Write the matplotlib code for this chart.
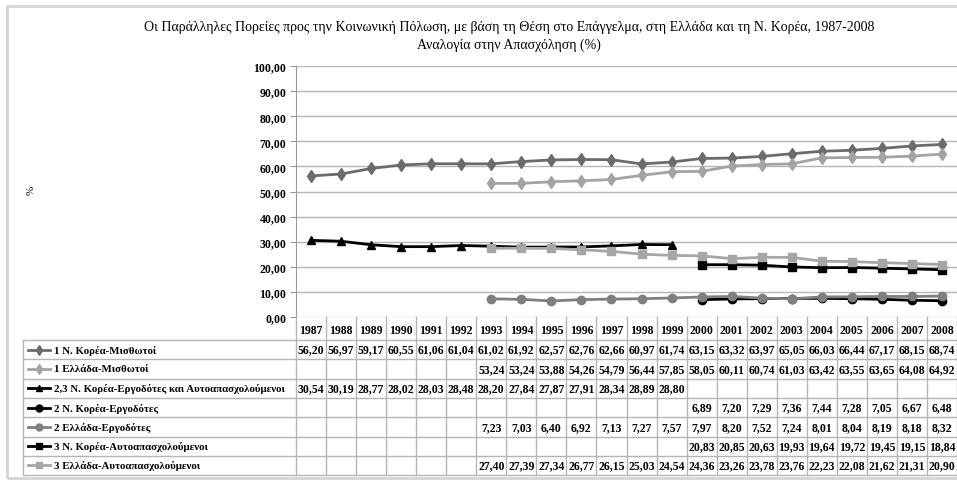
import numpy as np
import matplotlib
matplotlib.use("Agg")
import matplotlib.pyplot as plt
from matplotlib.lines import Line2D
from matplotlib.patches import Rectangle

nan = np.nan
years = list(range(1987, 2009))
labels = [
    "1 Ν. Κορέα-Μισθωτοί",
    "1 Ελλάδα-Μισθωτοί",
    "2,3 Ν. Κορέα-Εργοδότες και Αυτοαπασχολούμενοι",
    "2 Ν. Κορέα-Εργοδότες",
    "2 Ελλάδα-Εργοδότες",
    "3 Ν. Κορέα-Αυτοαπασχολούμενοι",
    "3 Ελλάδα-Αυτοαπασχολούμενοι",
]
korea_wage = [56.20, 56.97, 59.17, 60.55, 61.06, 61.04, 61.02, 61.92, 62.57, 62.76, 62.66,
              60.97, 61.74, 63.15, 63.32, 63.97, 65.05, 66.03, 66.44, 67.17, 68.15, 68.74]
greece_wage = [nan] * 6 + [53.24, 53.24, 53.88, 54.26, 54.79, 56.44, 57.85, 58.05, 60.11,
                           60.74, 61.03, 63.42, 63.55, 63.65, 64.08, 64.92]
korea_emp_self = [30.54, 30.19, 28.77, 28.02, 28.03, 28.48, 28.20, 27.84, 27.87, 27.91,
                  28.34, 28.89, 28.80] + [nan] * 9
korea_emp = [nan] * 13 + [6.89, 7.20, 7.29, 7.36, 7.44, 7.28, 7.05, 6.67, 6.48]
greece_emp = [nan] * 6 + [7.23, 7.03, 6.40, 6.92, 7.13, 7.27, 7.57, 7.97, 8.20, 7.52,
                          7.24, 8.01, 8.04, 8.19, 8.18, 8.32]
korea_self = [nan] * 13 + [20.83, 20.85, 20.63, 19.93, 19.64, 19.72, 19.45, 19.15, 18.84]
greece_self = [nan] * 6 + [27.40, 27.39, 27.34, 26.77, 26.15, 25.03, 24.54, 24.36, 23.26,
                           23.78, 23.76, 22.23, 22.08, 21.62, 21.31, 20.90]
series = [korea_wage, greece_wage, korea_emp_self, korea_emp, greece_emp, korea_self, greece_self]
colors = ["#6b6b6b", "#a3a3a3", "#000000", "#000000", "#7f7f7f", "#000000", "#a6a6a6"]
markers = ["d", "d", "^", "o", "o", "s", "s"]
yticks = np.arange(0, 101, 10)

W, H = 957, 481
fig = plt.figure(figsize=(W / 100, H / 100), dpi=100)
plt.rcParams['font.family'] = ['Liberation Serif', 'DejaVu Serif']

def fx(px):
    return px / W

def fy(py):
    return 1 - py / H

# outer frame
fig.patches.append(Rectangle((fx(7), fy(479)), fx(960) - fx(7), fy(7) - fy(479),
                             transform=fig.transFigure, fill=False,
                             edgecolor="#d4d4d4", linewidth=2, zorder=0))

# title
fig.text(fx(509), fy(28), "Οι Παράλληλες Πορείες προς την Κοινωνική Πόλωση, με βάση τη Θέση στο Επάγγελμα, στη Ελλάδα και τη Ν. Κορέα, 1987-2008",
         ha="center", va="center", fontsize=10)
fig.text(fx(509), fy(45), "Αναλογία στην Απασχόληση (%)", ha="center", va="center", fontsize=10)

# plot area
x0, x1 = 296, 957
ytop, ybot = 67, 318
ax = fig.add_axes([fx(x0), fy(ybot), fx(x1) - fx(x0), fy(ytop) - fy(ybot)])
n = len(years)
xs = np.arange(n)
ax.set_xlim(-0.5, n - 0.5)
ax.set_ylim(0, 100)
ax.set_yticks(yticks)
ax.set_yticklabels([f"{v:.2f}".replace(".", ",") for v in yticks], fontsize=8.5, fontweight="bold")
ax.set_xticks([])
for s in ["top", "right", "bottom"]:
    ax.spines[s].set_visible(False)
ax.spines["left"].set_color("#9a9a9a")
ax.tick_params(axis="y", length=4, color="#9a9a9a", pad=3)
ax.grid(axis="y", color="#b5b5b5", linewidth=1)
ax.set_axisbelow(True)
for vals, c, m in zip(series, colors, markers):
    ax.plot(xs, vals, color=c, marker=m, markersize=6, linewidth=2, clip_on=False)
fig.text(fx(31), fy(190), "%", rotation=90, ha="center", va="center", fontsize=8)

# table
tx0 = 23
colw = (x1 - x0) / n
hdr_top, hdr_bot = 318, 341
rowh = 19.3
nrows = len(series)
tbot = hdr_bot + rowh * nrows
tax = fig.add_axes([fx(tx0), fy(tbot), fx(x1) - fx(tx0), fy(hdr_top) - fy(tbot)])
left_edge = (tx0 - x0) / colw - 0.5
tax.set_xlim(left_edge, n - 0.5)
tax.set_ylim(tbot, hdr_top)
tax.axis("off")
gc = "#b5b5b5"
for i in range(n + 1):
    tax.plot([i - 0.5, i - 0.5], [hdr_top, tbot], color=gc, lw=1, clip_on=False)
tax.plot([left_edge, left_edge], [hdr_bot, tbot], color=gc, lw=1, clip_on=False)
for r in range(nrows + 1):
    yy = hdr_bot + r * rowh
    tax.plot([left_edge, n - 0.5], [yy, yy], color=gc, lw=1, clip_on=False)
for i, yr in enumerate(years):
    tax.text(i, (hdr_top + hdr_bot) / 2 + 1, str(yr), ha="center", va="center",
             fontsize=8.5, fontweight="bold")
lx = left_edge + 5 / colw
for r, (lab, vals, c, m) in enumerate(zip(labels, series, colors, markers)):
    yc = hdr_bot + (r + 0.5) * rowh
    tax.add_line(Line2D([lx, lx + 22 / colw], [yc, yc], color=c, lw=2))
    tax.plot([lx + 11 / colw], [yc], marker=m, color=c, markersize=5)
    tax.text(lx + 26 / colw, yc, lab, ha="left", va="center", fontsize=7.8, fontweight="bold")
    for i, v in enumerate(vals):
        if not np.isnan(v):
            tax.text(i, yc, f"{v:.2f}".replace(".", ","), ha="center", va="center",
                     fontsize=8.5, fontweight="bold")

fig.savefig("out.png", dpi=100)
